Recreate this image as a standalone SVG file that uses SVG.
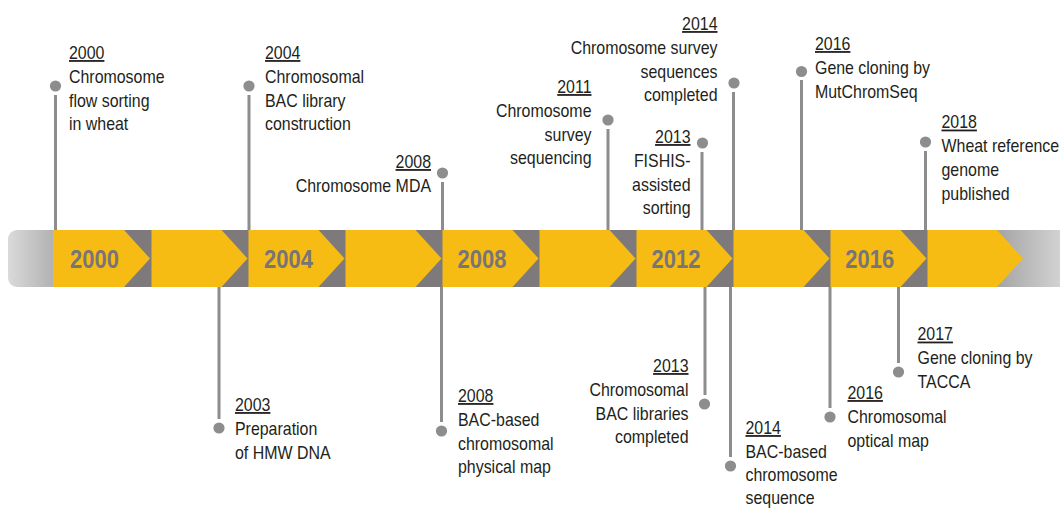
<svg xmlns="http://www.w3.org/2000/svg" width="1060" height="508" viewBox="0 0 1060 508">
  <style>
    .lbl { font-family: "Liberation Sans", Arial, sans-serif; font-size: 18px; fill: #231f20; }
    .yr { text-decoration: underline; }
    .bar-yr { font-family: "Liberation Sans", Arial, sans-serif; font-size: 26px; font-weight: bold; fill: #787477; text-anchor: middle; }
    .stem { stroke: #8d8c8f; stroke-width: 3; fill: none; }
    .dot { fill: #8d8c8f; }
    .chev { fill: #f7bc14; }
  </style>
  <defs>
    <linearGradient id="barFill" gradientUnits="userSpaceOnUse" x1="8" y1="0" x2="1060" y2="0">
      <stop offset="0" stop-color="#dadada"/>
      <stop offset="0.0428" stop-color="#b2b2b2"/>
      <stop offset="0.0429" stop-color="#7e7a7c"/>
      <stop offset="0.9390" stop-color="#7e7a7c"/>
      <stop offset="0.9391" stop-color="#a3a3a3"/>
      <stop offset="1" stop-color="#d2d2d2"/>
    </linearGradient>
  </defs>

  <rect width="1060" height="508" fill="#ffffff"/>

  <!-- timeline bar -->
  <g id="timeline-bar">
    <rect x="8" y="230" width="1070" height="57" rx="9" fill="url(#barFill)"/>
    <g id="chevrons">
      <polygon class="chev" points="53,230 124,230 150,258.5 124,287 53,287"/>
      <polygon class="chev" points="151.5,230 221.5,230 247.5,258.5 221.5,287 151.5,287"/>
      <polygon class="chev" points="248.5,230 318.5,230 344.5,258.5 318.5,287 248.5,287"/>
      <polygon class="chev" points="345.5,230 415.5,230 441.5,258.5 415.5,287 345.5,287"/>
      <polygon class="chev" points="442.5,230 512.5,230 538.5,258.5 512.5,287 442.5,287"/>
      <polygon class="chev" points="539.5,230 609.5,230 635.5,258.5 609.5,287 539.5,287"/>
      <polygon class="chev" points="636.5,230 706.5,230 732.5,258.5 706.5,287 636.5,287"/>
      <polygon class="chev" points="733.5,230 803.5,230 829.5,258.5 803.5,287 733.5,287"/>
      <polygon class="chev" points="830.5,230 900.5,230 926.5,258.5 900.5,287 830.5,287"/>
      <polygon class="chev" points="927.5,230 997,230 1023,258.5 997,287 927.5,287"/>
    </g>
    <g id="bar-years">
      <text class="bar-yr" transform="translate(94.5,268) scale(0.845,1)">2000</text>
      <text class="bar-yr" transform="translate(288.5,268) scale(0.845,1)">2004</text>
      <text class="bar-yr" transform="translate(482,268) scale(0.845,1)">2008</text>
      <text class="bar-yr" transform="translate(676,268) scale(0.845,1)">2012</text>
      <text class="bar-yr" transform="translate(869.7,268) scale(0.845,1)">2016</text>
    </g>
  </g>

  <!-- connectors: stems and end dots -->
  <g id="connectors">
    <line class="stem" x1="55.5" y1="95" x2="55.5" y2="230"/>
    <circle class="dot" cx="55.5" cy="86" r="5.6"/>
    <line class="stem" x1="249" y1="95" x2="249" y2="230"/>
    <circle class="dot" cx="249" cy="86" r="5.6"/>
    <line class="stem" x1="442.5" y1="182" x2="442.5" y2="230"/>
    <circle class="dot" cx="442.5" cy="173" r="5.6"/>
    <line class="stem" x1="608" y1="129" x2="608" y2="230"/>
    <circle class="dot" cx="608" cy="120" r="5.6"/>
    <line class="stem" x1="702" y1="152" x2="702" y2="230"/>
    <circle class="dot" cx="702.5" cy="143" r="5.6"/>
    <line class="stem" x1="733.5" y1="92" x2="733.5" y2="230"/>
    <circle class="dot" cx="734" cy="83" r="5.6"/>
    <line class="stem" x1="801.5" y1="80" x2="801.5" y2="230"/>
    <circle class="dot" cx="801.5" cy="71.5" r="5.6"/>
    <line class="stem" x1="925.5" y1="151" x2="925.5" y2="230"/>
    <circle class="dot" cx="925.5" cy="142" r="5.6"/>

    <line class="stem" x1="219" y1="287" x2="219" y2="419"/>
    <circle class="dot" cx="219" cy="428" r="5.6"/>
    <line class="stem" x1="441.5" y1="287" x2="441.5" y2="422"/>
    <circle class="dot" cx="441.5" cy="431" r="5.6"/>
    <line class="stem" x1="705" y1="287" x2="705" y2="395"/>
    <circle class="dot" cx="704.5" cy="404" r="5.6"/>
    <line class="stem" x1="730.5" y1="287" x2="730.5" y2="457"/>
    <circle class="dot" cx="730.5" cy="466" r="5.6"/>
    <line class="stem" x1="830" y1="287" x2="830" y2="408"/>
    <circle class="dot" cx="830" cy="417" r="5.6"/>
    <line class="stem" x1="898.5" y1="287" x2="898.5" y2="363"/>
    <circle class="dot" cx="898.5" cy="372" r="5.6"/>
  </g>

  <!-- milestones above the bar -->
  <g id="m2000-sorting" transform="translate(69,0) scale(0.885,1)">
    <text class="lbl"><tspan class="yr" x="0" y="59">2000</tspan><tspan x="0" y="83">Chromosome</tspan><tspan x="0" y="106.6">flow sorting</tspan><tspan x="0" y="130.2">in wheat</tspan></text>
  </g>
  <g id="m2004-bac" transform="translate(265,0) scale(0.885,1)">
    <text class="lbl"><tspan class="yr" x="0" y="59">2004</tspan><tspan x="0" y="83">Chromosomal</tspan><tspan x="0" y="106.6">BAC library</tspan><tspan x="0" y="130.2">construction</tspan></text>
  </g>
  <g id="m2008-mda" transform="translate(431,0) scale(0.885,1)">
    <text class="lbl" text-anchor="end"><tspan class="yr" x="0" y="168">2008</tspan><tspan x="0" y="192">Chromosome MDA</tspan></text>
  </g>
  <g id="m2011-survey" transform="translate(591.5,0) scale(0.885,1)">
    <text class="lbl" text-anchor="end"><tspan class="yr" x="0" y="93">2011</tspan><tspan x="0" y="117">Chromosome</tspan><tspan x="0" y="140.6">survey</tspan><tspan x="0" y="164.2">sequencing</tspan></text>
  </g>
  <g id="m2013-fishis" transform="translate(690.5,0) scale(0.885,1)">
    <text class="lbl" text-anchor="end"><tspan class="yr" x="0" y="143">2013</tspan><tspan x="0" y="167">FISHIS-</tspan><tspan x="0" y="190.6">assisted</tspan><tspan x="0" y="214.2">sorting</tspan></text>
  </g>
  <g id="m2014-css" transform="translate(717.5,0) scale(0.885,1)">
    <text class="lbl" text-anchor="end"><tspan class="yr" x="0" y="30">2014</tspan><tspan x="0" y="54">Chromosome survey</tspan><tspan x="0" y="77.6">sequences</tspan><tspan x="0" y="101.2">completed</tspan></text>
  </g>
  <g id="m2016-mutchromseq" transform="translate(815,0) scale(0.885,1)">
    <text class="lbl"><tspan class="yr" x="0" y="50">2016</tspan><tspan x="0" y="74">Gene cloning by</tspan><tspan x="0" y="97.6">MutChromSeq</tspan></text>
  </g>
  <g id="m2018-reference" transform="translate(941.5,0) scale(0.885,1)">
    <text class="lbl"><tspan class="yr" x="0" y="128.5">2018</tspan><tspan x="0" y="152.5">Wheat reference</tspan><tspan x="0" y="176.1">genome</tspan><tspan x="0" y="199.7">published</tspan></text>
  </g>

  <!-- milestones below the bar -->
  <g id="m2003-hmw" transform="translate(235,0) scale(0.885,1)">
    <text class="lbl"><tspan class="yr" x="0" y="411">2003</tspan><tspan x="0" y="435">Preparation</tspan><tspan x="0" y="458.6">of HMW DNA</tspan></text>
  </g>
  <g id="m2008-physmap" transform="translate(458,0) scale(0.885,1)">
    <text class="lbl"><tspan class="yr" x="0" y="402">2008</tspan><tspan x="0" y="426">BAC-based</tspan><tspan x="0" y="449.6">chromosomal</tspan><tspan x="0" y="473.2">physical map</tspan></text>
  </g>
  <g id="m2013-libraries" transform="translate(688.5,0) scale(0.885,1)">
    <text class="lbl" text-anchor="end"><tspan class="yr" x="0" y="372">2013</tspan><tspan x="0" y="396">Chromosomal</tspan><tspan x="0" y="419.6">BAC libraries</tspan><tspan x="0" y="443.2">completed</tspan></text>
  </g>
  <g id="m2014-sequence" transform="translate(745.5,0) scale(0.885,1)">
    <text class="lbl"><tspan class="yr" x="0" y="434">2014</tspan><tspan x="0" y="457.6">BAC-based</tspan><tspan x="0" y="480.8">chromosome</tspan><tspan x="0" y="503.6">sequence</tspan></text>
  </g>
  <g id="m2016-optical" transform="translate(847.5,0) scale(0.885,1)">
    <text class="lbl"><tspan class="yr" x="0" y="399">2016</tspan><tspan x="0" y="423">Chromosomal</tspan><tspan x="0" y="446.6">optical map</tspan></text>
  </g>
  <g id="m2017-tacca" transform="translate(917.5,0) scale(0.885,1)">
    <text class="lbl"><tspan class="yr" x="0" y="340.5">2017</tspan><tspan x="0" y="364.5">Gene cloning by</tspan><tspan x="0" y="388.1">TACCA</tspan></text>
  </g>
</svg>
